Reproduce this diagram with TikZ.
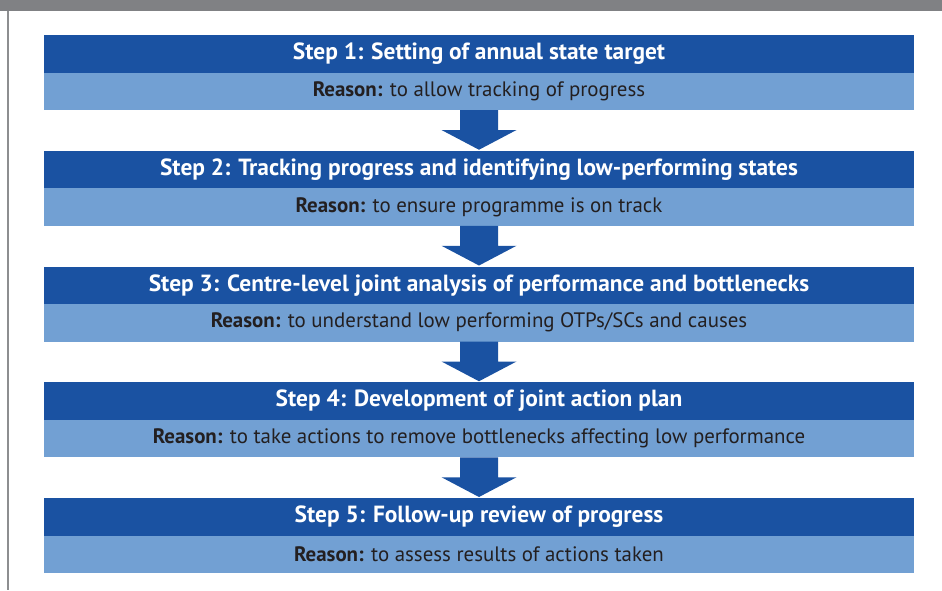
\documentclass[tikz,border=0pt]{standalone}
\usepackage{fontspec}
\setmainfont{PT Sans}
\usepackage{xcolor}
\usetikzlibrary{positioning, calc}

\definecolor{StepBlue}{RGB}{26,82,162}
\definecolor{ReasonBlue}{RGB}{114,160,211}
\definecolor{ReasonText}{RGB}{35,31,32}
\definecolor{FrameGray}{RGB}{128,129,132}

\newcommand{\reason}[1]{\textbf{Reason:} #1}

\begin{document}
\begin{tikzpicture}[x=1pt, y=1pt,
  node distance=40.75pt,
  stepbox/.style={rectangle, fill=StepBlue, text=white, font=\fontsize{23.4}{25}\selectfont\bfseries,
    minimum width=870pt, minimum height=37.5pt, inner sep=0pt, outer sep=0pt},
  %
  reasonbox/.style={rectangle, fill=ReasonBlue, text=ReasonText, font=\fontsize{20.9}{23}\selectfont,
    minimum width=870pt, minimum height=37.5pt, inner sep=0pt, outer sep=0pt},
  %
  downarrow/.style={fill=StepBlue, draw=none}
  ]

  \useasboundingbox (0,0) rectangle (942,-590);

  % frame of the figure
  \fill [FrameGray] (0,0) rectangle (942,-11);
  \draw [FrameGray!90, line width=2pt] (8,-11) -- (8,-590);

  \begin{scope}
    \node [stepbox] (s1) at (479,-53.75) {Step 1: Setting of annual state target};
    \node [reasonbox, below=0pt of s1] (r1) {\reason{to allow tracking of progress}};
    %%%%%%%%%%%%%%%%%%%%%%%%%%%%%%%
    \node [stepbox, below=of r1] (s2) {Step 2: Tracking progress and identifying low-performing states};
    \node [reasonbox, below=0pt of s2] (r2) {\reason{to ensure programme is on track}};
    %%%%%%%%%%%%%%%%%%%%%%%%%%%%%%%
    \node [stepbox, below=of r2] (s3) {Step 3: Centre-level joint analysis of performance and bottlenecks};
    \node [reasonbox, below=0pt of s3] (r3) {\reason{to understand low performing OTPs/SCs and causes}};
    %%%%%%%%%%%%%%%%%%%%%%%%%%%%%%%
    \node [stepbox, below=of r3] (s4) {Step 4: Development of joint action plan};
    \node [reasonbox, below=0pt of s4] (r4) {\reason{to take actions to remove bottlenecks affecting low performance}};
    %%%%%%%%%%%%%%%%%%%%%%%%%%%%%%%
    \node [stepbox, below=of r4] (s5) {Step 5: Follow-up review of progress};
    \node [reasonbox, below=0pt of s5] (r5) {\reason{to assess results of actions taken}};
  \end{scope}

  \begin{scope}
    \foreach \a/\b in {r1/s2, r2/s3, r3/s4, r4/s5}{
      \fill [downarrow] ($(\a.south)+(-19,0)$) -- ($(\a.south)+(19,0)$)
        -- ++(0,-20) -- ++(18.5,0) -- ($(\b.north)+(0,1)$) -- ($(\a.south)+(-37.5,-20)$)
        -- ++(18.5,0) -- cycle;
    }
  \end{scope}

\end{tikzpicture}
\end{document}
